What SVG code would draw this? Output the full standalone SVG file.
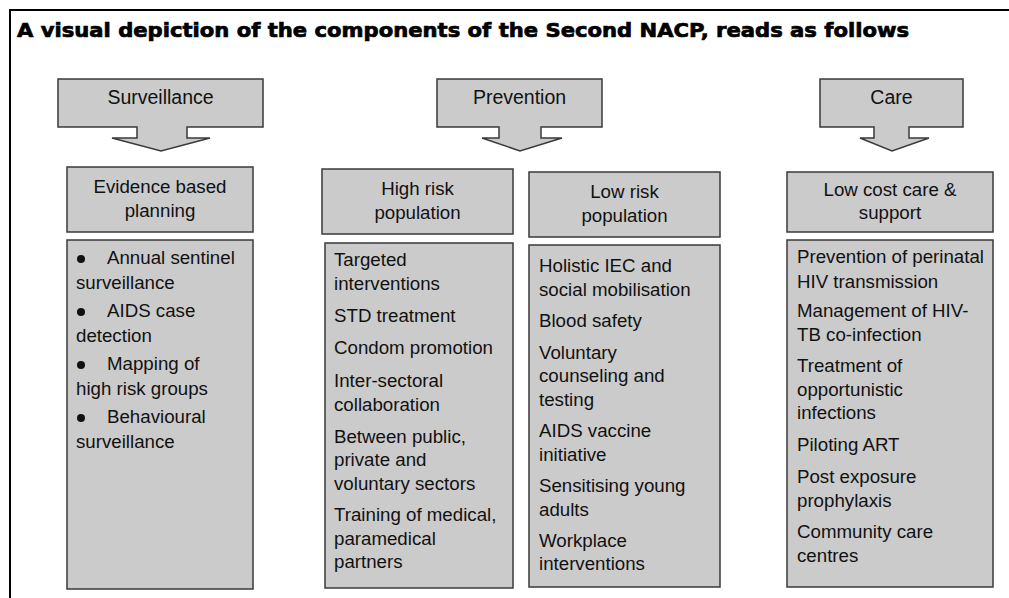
<svg xmlns="http://www.w3.org/2000/svg" width="1009" height="598" viewBox="0 0 1009 598">
<style>
.box{fill:#cbcbcb;stroke:#3a3a3a;stroke-width:1.5}
.t{font-family:"Liberation Sans",Arial,sans-serif;font-size:18.7px;fill:#111}
.h{font-family:"Liberation Sans",Arial,sans-serif;font-size:19.5px;fill:#111;text-anchor:middle}
.c{text-anchor:middle}
.title{font-family:"DejaVu Sans","Liberation Sans",sans-serif;font-weight:bold;font-size:19.5px;fill:#000;stroke:#000;stroke-width:0.7}
</style>
<rect width="1009" height="598" fill="#fff"/>
<g id="frame" fill="none" stroke="#000" stroke-width="2">
<path d="M10,598 V10 H1009"/>
</g>
<text class="title" x="17" y="37" textLength="892" lengthAdjust="spacingAndGlyphs">A visual depiction of the components of the Second NACP, reads as follows</text>

<g id="connectors"/>

<g id="surveillance">
<path class="box" d="M58,79 H263 V127 H187 V138 H210 L161,151 L112,138 H137 V127 H58 Z"/>
<text class="h" x="160.5" y="104">Surveillance</text>
</g>
<g id="prevention">
<path class="box" d="M437,79 H602 V127 H541 V138 H562 L520,151 L482,138 H499 V127 H437 Z"/>
<text class="h" x="519.5" y="104">Prevention</text>
</g>
<g id="care">
<path class="box" d="M820,79 H963 V127 H909 V138 H929 L892,151 L860,138 H874 V127 H820 Z"/>
<text class="h" x="891.5" y="104">Care</text>
</g>

<g id="evidence-header">
<rect class="box" x="67" y="167" width="186" height="65"/>
<text class="t c" x="160" y="193">Evidence based</text>
<text class="t c" x="160" y="217">planning</text>
</g>
<g id="evidence-list">
<rect class="box" x="67" y="240" width="186" height="349"/>
<g fill="#111">
<circle cx="81" cy="259" r="4"/>
<circle cx="81" cy="312" r="4"/>
<circle cx="81" cy="365" r="4"/>
<circle cx="81" cy="418" r="4"/>
</g>
<text class="t" x="107" y="264">Annual sentinel</text>
<text class="t" x="76" y="288.5">surveillance</text>
<text class="t" x="107" y="317">AIDS case</text>
<text class="t" x="76" y="341.5">detection</text>
<text class="t" x="107" y="370">Mapping of</text>
<text class="t" x="76" y="394.5">high risk groups</text>
<text class="t" x="107" y="423">Behavioural</text>
<text class="t" x="76" y="447.5">surveillance</text>
</g>

<g id="high-risk-header">
<rect class="box" x="322" y="169" width="191" height="65"/>
<text class="t c" x="417.5" y="195">High risk</text>
<text class="t c" x="417.5" y="219">population</text>
</g>
<g id="high-risk-list">
<rect class="box" x="325" y="243" width="188" height="345"/>
<text class="t" x="334" y="266">Targeted</text>
<text class="t" x="334" y="289.5">interventions</text>
<text class="t" x="334" y="322">STD treatment</text>
<text class="t" x="334" y="354">Condom promotion</text>
<text class="t" x="334" y="387">Inter-sectoral</text>
<text class="t" x="334" y="410.5">collaboration</text>
<text class="t" x="334" y="442.5">Between public,</text>
<text class="t" x="334" y="466">private and</text>
<text class="t" x="334" y="489.5">voluntary sectors</text>
<text class="t" x="334" y="521">Training of medical,</text>
<text class="t" x="334" y="544.5">paramedical</text>
<text class="t" x="334" y="568">partners</text>
</g>

<g id="low-risk-header">
<rect class="box" x="529" y="172" width="191" height="65"/>
<text class="t c" x="624.5" y="198">Low risk</text>
<text class="t c" x="624.5" y="222">population</text>
</g>
<g id="low-risk-list">
<rect class="box" x="529" y="245" width="191" height="342"/>
<text class="t" x="539" y="272">Holistic IEC and</text>
<text class="t" x="539" y="295.5">social mobilisation</text>
<text class="t" x="539" y="327">Blood safety</text>
<text class="t" x="539" y="358.5">Voluntary</text>
<text class="t" x="539" y="382">counseling and</text>
<text class="t" x="539" y="405.5">testing</text>
<text class="t" x="539" y="437">AIDS vaccine</text>
<text class="t" x="539" y="460.5">initiative</text>
<text class="t" x="539" y="492">Sensitising young</text>
<text class="t" x="539" y="515.5">adults</text>
<text class="t" x="539" y="547">Workplace</text>
<text class="t" x="539" y="570">interventions</text>
</g>

<g id="care-header">
<rect class="box" x="787" y="172" width="206" height="60"/>
<text class="t c" x="890" y="196">Low cost care &amp;</text>
<text class="t c" x="890" y="219">support</text>
</g>
<g id="care-list">
<rect class="box" x="787" y="240" width="206" height="347"/>
<text class="t" x="797" y="263">Prevention of perinatal</text>
<text class="t" x="797" y="287.5">HIV transmission</text>
<text class="t" x="797" y="316.5">Management of HIV-</text>
<text class="t" x="797" y="341">TB co-infection</text>
<text class="t" x="797" y="372">Treatment of</text>
<text class="t" x="797" y="395.5">opportunistic</text>
<text class="t" x="797" y="419">infections</text>
<text class="t" x="797" y="451">Piloting ART</text>
<text class="t" x="797" y="483">Post exposure</text>
<text class="t" x="797" y="506.5">prophylaxis</text>
<text class="t" x="797" y="538">Community care</text>
<text class="t" x="797" y="561.5">centres</text>
</g>
</svg>
